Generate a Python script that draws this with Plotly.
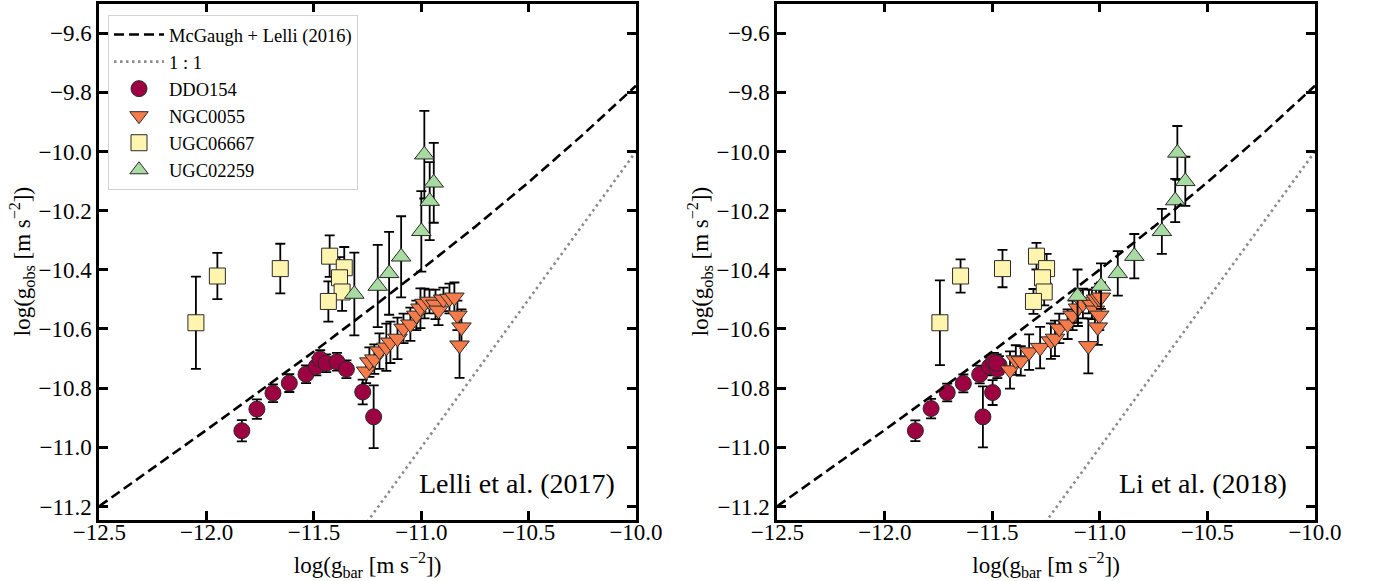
import plotly.graph_objects as go

# ---------------- data ----------------
# McGaugh + Lelli (2016) relation, sampled
rar_x = [-12.5, -12.25, -12.0, -11.75, -11.5, -11.25, -11.0, -10.75, -10.5, -10.25, -10.0]
rar_y = [-11.199, -11.071, -10.941, -10.809, -10.676, -10.539, -10.399, -10.255, -10.104, -9.945, -9.778]
one_x = [-12.5, -10.0]
one_y = [-12.5, -10.0]

# ---- Lelli et al. (2017) panel ----
ddo_x_L = [-11.836, -11.766, -11.691, -11.615, -11.537, -11.489, -11.471, -11.443, -11.393, -11.349, -11.273, -11.222]
ddo_y_L = [-10.944, -10.871, -10.817, -10.783, -10.753, -10.727, -10.702, -10.716, -10.711, -10.736, -10.813, -10.897]
ddo_e_L = [0.036, 0.033, 0.03, 0.03, 0.03, 0.03, 0.03, 0.03, 0.03, 0.03, 0.042, 0.106]

ngc_x_L = [-11.257, -11.242, -11.219, -11.195, -11.163, -11.144, -11.111, -11.083, -11.051, -11.023, -11.004,
           -10.985, -10.962, -10.934, -10.920, -10.897, -10.869, -10.846, -10.832, -10.813, -10.822]
ngc_y_L = [-10.743, -10.712, -10.702, -10.675, -10.662, -10.645, -10.632, -10.598, -10.584, -10.554, -10.530,
           -10.514, -10.507, -10.517, -10.537, -10.500, -10.497, -10.493, -10.554, -10.594, -10.655]
ngc_e_L = [0.04, 0.05, 0.05, 0.06, 0.08, 0.07, 0.07, 0.05, 0.056, 0.05, 0.067,
           0.05, 0.04, 0.05, 0.05, 0.04, 0.05, 0.05, 0.05, 0.06, 0.11]

ugc6_x_L = [-12.050, -11.950, -11.657, -11.427, -11.359, -11.381, -11.369, -11.433]
ugc6_y_L = [-10.579, -10.421, -10.396, -10.354, -10.393, -10.427, -10.475, -10.507]
ugc6_e_L = [0.156, 0.078, 0.084, 0.07, 0.07, 0.07, 0.064, 0.068]

ugc2_x_L = [-10.986, -10.942, -10.961, -11.000, -11.094, -11.150, -11.203, -11.312]
ugc2_y_L = [-10.011, -10.106, -10.168, -10.270, -10.356, -10.412, -10.455, -10.482]
ugc2_e_L = [0.148, 0.135, 0.132, 0.136, 0.137, 0.14, 0.139, 0.14]

# ---- Li et al. (2018) panel ----
ddo_x_R = [-11.858, -11.785, -11.710, -11.635, -11.559, -11.513, -11.493, -11.469, -11.477, -11.480, -11.499, -11.544]
ddo_y_R = [-10.944, -10.869, -10.815, -10.784, -10.754, -10.727, -10.711, -10.722, -10.736, -10.716, -10.815, -10.897]
ddo_e_R = [0.035, 0.033, 0.03, 0.03, 0.03, 0.03, 0.03, 0.03, 0.03, 0.03, 0.042, 0.103]

ngc_x_R = [-11.418, -11.391, -11.368, -11.329, -11.278, -11.228, -11.209, -11.189, -11.150, -11.127, -11.102,
           -11.079, -11.051, -11.037, -11.023, -11.018, -11.004, -10.995, -11.003, -11.010, -11.054]
ngc_y_R = [-10.739, -10.705, -10.708, -10.678, -10.663, -10.641, -10.632, -10.598, -10.584, -10.554, -10.530,
           -10.514, -10.507, -10.517, -10.537, -10.500, -10.497, -10.493, -10.554, -10.594, -10.657]
ngc_e_R = [0.063, 0.05, 0.05, 0.06, 0.07, 0.06, 0.06, 0.05, 0.05, 0.05, 0.06,
           0.05, 0.04, 0.05, 0.05, 0.04, 0.05, 0.05, 0.05, 0.06, 0.093]

ugc6_x_R = [-11.744, -11.648, -11.453, -11.295, -11.248, -11.267, -11.259, -11.309]
ugc6_y_R = [-10.579, -10.421, -10.396, -10.354, -10.396, -10.427, -10.475, -10.507]
ugc6_e_R = [0.143, 0.056, 0.063, 0.045, 0.05, 0.05, 0.045, 0.042]

ugc2_x_R = [-10.640, -10.603, -10.650, -10.712, -10.840, -10.917, -10.995, -11.104]
ugc2_y_R = [-10.005, -10.101, -10.166, -10.270, -10.354, -10.412, -10.455, -10.489]
ugc2_e_R = [0.091, 0.083, 0.073, 0.076, 0.075, 0.075, 0.077, 0.09]

names = ["DDO154", "NGC0055", "UGC06667", "UGC02259"]
x_ticks = [-12.5, -12.0, -11.5, -11.0, -10.5, -10.0]
y_ticks = [-11.2, -11.0, -10.8, -10.6, -10.4, -10.2, -10.0, -9.8, -9.6]
panel_labels = ["Lelli et al. (2017)", "Li et al. (2018)"]

# ---------------- styling ----------------
FONT = "Liberation Serif"
colors = ["#9e0142", "#f67b4a", "#fff5ae", "#a8dba2"]
symbols = ["circle", "triangle-down", "square", "triangle-up"]
sizes = [16, 17, 16, 17]

fig = go.Figure()

panels = [
    ("x", "y", [(ddo_x_L, ddo_y_L, ddo_e_L), (ngc_x_L, ngc_y_L, ngc_e_L),
                (ugc6_x_L, ugc6_y_L, ugc6_e_L), (ugc2_x_L, ugc2_y_L, ugc2_e_L)], True),
    ("x2", "y2", [(ddo_x_R, ddo_y_R, ddo_e_R), (ngc_x_R, ngc_y_R, ngc_e_R),
                  (ugc6_x_R, ugc6_y_R, ugc6_e_R), (ugc2_x_R, ugc2_y_R, ugc2_e_R)], False),
]

for xa, ya, series, show in panels:
    for i, (sx, sy, se) in enumerate(series):
        fig.add_trace(go.Scatter(
            x=sx, y=sy, mode="markers", name=names[i], xaxis=xa, yaxis=ya,
            showlegend=show, legendrank=10 + i,
            marker=dict(symbol=symbols[i], size=sizes[i], color=colors[i],
                        line=dict(color="#2a2a2a", width=1)),
            error_y=dict(type="data", array=se, visible=True, color="black",
                         thickness=1.8, width=5),
        ))
    fig.add_trace(go.Scatter(
        x=rar_x, y=rar_y, mode="lines", name="McGaugh + Lelli (2016)", xaxis=xa, yaxis=ya,
        showlegend=show, legendrank=1,
        line=dict(color="black", width=2.6, dash="10px,5px"),
    ))
    fig.add_trace(go.Scatter(
        x=one_x, y=one_y, mode="lines", name="1 : 1", xaxis=xa, yaxis=ya,
        showlegend=show, legendrank=2,
        line=dict(color="#8c8c8c", width=2.6, dash="2.5px,3.5px"),
    ))

W, H = 1373, 581
ydom = [1 - 519.5 / H, 1 - 3.5 / H]


def xaxis(dom):
    return dict(domain=dom, range=[-12.5, -10.0], tickvals=x_ticks, tickformat=".1f",
                ticks="inside", ticklen=9, tickwidth=2.5, tickcolor="black",
                showline=True, linewidth=2.7, linecolor="black", mirror="ticks",
                showgrid=False, zeroline=False, automargin=False,
                ticklabelstandoff=-10,
                tickfont=dict(family=FONT, size=23, color="black"),
                title=dict(text="log(g<sub>bar</sub> [m s<sup>−2</sup>])", standoff=18,
                           font=dict(family=FONT, size=23, color="black")))


def yaxis(anchor):
    return dict(domain=ydom, range=[-11.244, -9.5], tickvals=y_ticks, tickformat=".1f",
                anchor=anchor,
                ticks="inside", ticklen=9, tickwidth=2.5, tickcolor="black",
                showline=True, linewidth=2.7, linecolor="black", mirror="ticks",
                showgrid=False, zeroline=False, automargin=False,
                tickfont=dict(family=FONT, size=23, color="black"),
                title=dict(text="log(g<sub>obs</sub> [m s<sup>−2</sup>])", standoff=2,
                           font=dict(family=FONT, size=23, color="black")))


fig.update_layout(
    width=W, height=H,
    margin=dict(l=0, r=0, t=0, b=0),
    paper_bgcolor="white", plot_bgcolor="white",
    font=dict(family=FONT, color="black", size=19),
    xaxis=dict(xaxis([99.3 / W, 636 / W]), anchor="y"),
    yaxis=yaxis("x"),
    xaxis2=dict(xaxis([777.3 / W, 1315 / W]), anchor="y2"),
    yaxis2=yaxis("x2"),
    legend=dict(x=108 / W, y=1 - 15 / H, xanchor="left", yanchor="top",
                bgcolor="rgba(255,255,255,0.85)", bordercolor="#d3d3d3", borderwidth=1,
                font=dict(family=FONT, size=18.5, color="black"),
                itemwidth=50, tracegroupgap=0),
    annotations=[
        dict(text=panel_labels[0], x=617 / W, y=1 - 483 / H, xref="paper", yref="paper",
             xanchor="right", yanchor="middle", showarrow=False,
             font=dict(family=FONT, size=28, color="black")),
        dict(text=panel_labels[1], x=1289 / W, y=1 - 483 / H, xref="paper", yref="paper",
             xanchor="right", yanchor="middle", showarrow=False,
             font=dict(family=FONT, size=28, color="black")),
    ],
)

fig.write_html("out.html")
